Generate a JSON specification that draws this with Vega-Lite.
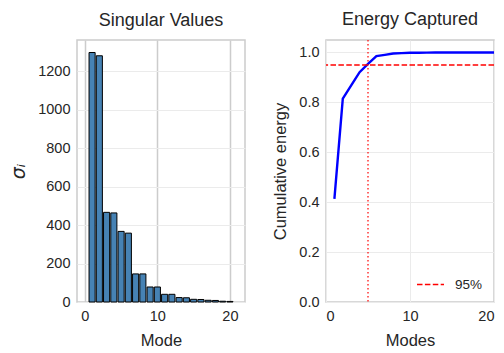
{
  "$schema": "https://vega.github.io/schema/vega-lite/v6.json",
  "background": "white",
  "padding": {"left": 8, "top": 10, "right": 5, "bottom": 5},
  "spacing": 26,
  "resolve": {"legend": {"color": "independent"}},
  "config": {
    "font": "Liberation Sans",
    "view": {"stroke": "#cccccc", "strokeWidth": 1.5},
    "axis": {"domain": false, "ticks": false, "labelFontSize": 14.5, "labelColor": "#262626", "titleFontSize": 16.5, "titleColor": "#262626", "titleFontWeight": "normal", "gridColor": "#ebebeb", "gridWidth": 1, "labelPadding": 7, "titlePadding": 10},
    "title": {"fontSize": 18, "fontWeight": "normal", "color": "#262626", "offset": 10}
  },
  "hconcat": [
    {
      "width": 168,
      "height": 262,
      "title": "Singular Values",
      "data": {"values": [
        {"mode": 1, "sigma": 1297}, {"mode": 2, "sigma": 1280}, {"mode": 3, "sigma": 466}, {"mode": 4, "sigma": 463},
        {"mode": 5, "sigma": 367}, {"mode": 6, "sigma": 358}, {"mode": 7, "sigma": 146}, {"mode": 8, "sigma": 146},
        {"mode": 9, "sigma": 78}, {"mode": 10, "sigma": 78}, {"mode": 11, "sigma": 40}, {"mode": 12, "sigma": 40},
        {"mode": 13, "sigma": 23}, {"mode": 14, "sigma": 22}, {"mode": 15, "sigma": 14}, {"mode": 16, "sigma": 13},
        {"mode": 17, "sigma": 9}, {"mode": 18, "sigma": 8}, {"mode": 19, "sigma": 4}, {"mode": 20, "sigma": 3}
      ]},
      "mark": {"type": "bar", "width": 6.1, "fill": "#4682b4", "stroke": "black", "strokeWidth": 1},
      "encoding": {
        "x": {"field": "mode", "type": "quantitative", "scale": {"domain": [-0.39, 21.39], "nice": false, "zero": false},
              "axis": {"values": [0, 10, 20], "title": "Mode", "gridColor": "#cccccc", "gridWidth": 1.5}},
        "y": {"field": "sigma", "type": "quantitative", "scale": {"domain": [0, 1362], "nice": false},
              "axis": {"values": [0, 200, 400, 600, 800, 1000, 1200], "format": "d", "title": "σᵢ", "titleFont": "DejaVu Sans", "titleFontStyle": "italic", "titleFontSize": 19, "titlePadding": 9}}
      }
    },
    {
      "width": 168,
      "height": 262,
      "title": "Energy Captured",
      "layer": [
        {
          "data": {"values": [
            {"mode": 1, "energy": 0.4129}, {"mode": 2, "energy": 0.8150}, {"mode": 3, "energy": 0.8683}, {"mode": 4, "energy": 0.9209},
            {"mode": 5, "energy": 0.9539}, {"mode": 6, "energy": 0.9854}, {"mode": 7, "energy": 0.9906}, {"mode": 8, "energy": 0.9958},
            {"mode": 9, "energy": 0.9973}, {"mode": 10, "energy": 0.9988}, {"mode": 11, "energy": 0.9992}, {"mode": 12, "energy": 0.9996},
            {"mode": 13, "energy": 0.99975}, {"mode": 14, "energy": 0.99987}, {"mode": 15, "energy": 0.99992}, {"mode": 16, "energy": 0.99996},
            {"mode": 17, "energy": 0.99998}, {"mode": 18, "energy": 0.99999}, {"mode": 19, "energy": 1.0}, {"mode": 20, "energy": 1.0}
          ]},
          "mark": {"type": "line", "color": "#0000ff", "strokeWidth": 2.4},
          "encoding": {
            "x": {"field": "mode", "type": "quantitative", "scale": {"domain": [0, 20], "nice": false},
                  "axis": {"values": [0, 10, 20], "title": "Modes"}},
            "y": {"field": "energy", "type": "quantitative", "scale": {"domain": [0, 1.05], "nice": false},
                  "axis": {"values": [0, 0.2, 0.4, 0.6, 0.8, 1.0], "format": ".1f", "title": "Cumulative energy"}}
          }
        },
        {
          "data": {"values": [{"k": 5}]},
          "mark": {"type": "rule", "color": "#ff0000", "strokeWidth": 1.2, "strokeDash": [1.5, 2.5]},
          "encoding": {"x": {"field": "k", "type": "quantitative"}}
        },
        {
          "data": {"values": [{"thr": 0.95, "label": "95%"}]},
          "mark": {"type": "rule", "strokeWidth": 1.6, "strokeDash": [5.5, 2.4]},
          "encoding": {
            "y": {"field": "thr", "type": "quantitative"},
            "color": {"field": "label", "type": "nominal", "scale": {"range": ["#ff0000"]},
                      "legend": {"title": null, "orient": "bottom-right", "symbolType": "stroke", "symbolStrokeWidth": 1.6, "symbolDash": [5.5, 2.4], "symbolSize": 729, "labelFontSize": 13.5, "labelColor": "#262626", "offset": 11, "labelOffset": 10}}
          }
        }
      ]
    }
  ]
}
